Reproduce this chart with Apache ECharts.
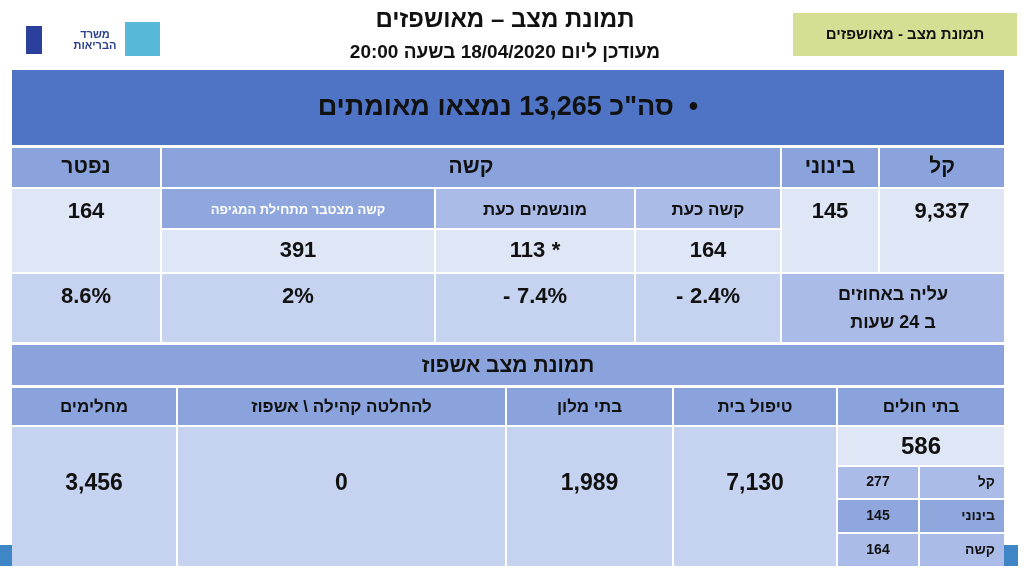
<!DOCTYPE html>
<html style="height: 100%">
<head>
  <meta charset="utf-8">
  <title>תמונת מצב – מאושפזים</title>
  <script src="https://cdn.jsdelivr.net/npm/echarts@6/dist/echarts.min.js"></script>
</head>
<body style="margin: 0; height: 100%; background: #fff">
  <div id="main" style="width: 1024px; height: 575px"></div>
  <script>
    const chart = echarts.init(document.getElementById('main'));
    const FONT = 'Liberation Sans';
    const RTL = s => '\u202B' + s + '\u202C';
    const measure = document.createElement('canvas').getContext('2d');

    // data
    const totalConfirmed = '13,265';
    const severityLabels = ['קל', 'בינוני', 'קשה', 'נפטר'];
    const severityValues = ['9,337', '145', null, '164'];
    const severeSubLabels = ['קשה כעת', 'מונשמים כעת', 'קשה מצטבר מתחילת המגיפה'];
    const severeSubValues = ['164', '113 *', '391'];
    const changeLabel = ['עליה באחוזים', 'ב 24 שעות'];
    const changeValues = ['- 2.4%', '- 7.4%', '2%', '8.6%'];
    const hospLabels = ['בתי חולים', 'טיפול בית', 'בתי מלון', 'להחלטה קהילה \\ אשפוז', 'מחלימים'];
    const hospValues = ['586', '7,130', '1,989', '0', '3,456'];
    const hospSubLabels = ['קל', 'בינוני', 'קשה'];
    const hospSubValues = ['277', '145', '164'];

    const g = [];
    function cell(x1, y1, x2, y2, fill) {
      g.push({ type: 'rect', shape: { x: x1, y: y1, width: x2 - x1, height: y2 - y1 }, style: { fill: fill } });
    }
    function txt(x, y, s, size, opts) {
      opts = opts || {};
      g.push({ type: 'text', x: x, y: y, style: {
        text: s, font: (opts.weight || 'bold') + ' ' + size + 'px "' + FONT + '"',
        fill: opts.color || '#111', align: opts.align || 'center', verticalAlign: 'middle'
      } });
    }
    // numbers with a sign: draw each piece on its own, left to right as written
    function num(cx, y, s, size) {
      const parts = s.split(' ');
      if (parts.length === 1) return txt(cx, y, s, size);
      measure.font = 'bold ' + size + 'px "' + FONT + '"';
      const gap = size * 0.3;
      const ws = parts.map(p => measure.measureText(p).width);
      let x = cx - (ws.reduce((a, b) => a + b, 0) + gap * (parts.length - 1)) / 2;
      parts.forEach((p, i) => { txt(x, y, p, size, { align: 'left' }); x += ws[i] + gap; });
    }

    // header
    txt(505, 20, 'תמונת מצב – מאושפזים', 24);
    txt(505, 53, RTL('מעודכן ליום 18/04/2020 בשעה 20:00'), 19);
    cell(793, 13, 1017, 56, '#d4df94');
    txt(905, 35, RTL('תמונת מצב - מאושפזים'), 15);
    txt(95, 40, 'משרד\nהבריאות', 11, { color: '#2b3f8c' });
    cell(26, 26, 42, 54, '#2b3f9c');
    cell(125, 22, 160, 56, '#58b8d8');

    // banner
    cell(12, 70, 1004, 145, '#4f74c6');
    txt(508, 108, RTL('•  סה"כ ' + totalConfirmed + ' נמצאו מאומתים'), 27);

    const HDR = '#8aa3dc', DARK = '#a9bbe6', LIGHT = '#dfe6f6', MID = '#c6d3f0';
    const sevX = [[880, 1004], [782, 878], [162, 780], [12, 160]];
    sevX.forEach((c, i) => {
      cell(c[0], 148, c[1], 187, HDR);
      txt((c[0] + c[1]) / 2, 167, severityLabels[i], 21);
      if (severityValues[i] !== null) {
        cell(c[0], 189, c[1], 272, LIGHT);
        num((c[0] + c[1]) / 2, 212, severityValues[i], 22);
      }
    });
    const subX = [[636, 780], [436, 634], [162, 434]];
    subX.forEach((c, i) => {
      cell(c[0], 189, c[1], 228, i === 2 ? '#8fa7dd' : DARK);
      txt((c[0] + c[1]) / 2, 210, severeSubLabels[i], i === 2 ? 13 : 17, { color: i === 2 ? '#fff' : '#111' });
      cell(c[0], 230, c[1], 272, LIGHT);
      num((c[0] + c[1]) / 2, 251, severeSubValues[i], 22);
    });
    // change row
    cell(782, 274, 1004, 342, DARK);
    txt(893, 295, changeLabel[0], 18);
    txt(893, 323, RTL(changeLabel[1]), 18);
    [[636, 780], [436, 634], [162, 434], [12, 160]].forEach((c, i) => {
      cell(c[0], 274, c[1], 342, MID);
      num((c[0] + c[1]) / 2, 297, changeValues[i], 22);
    });

    // hospitalisation
    cell(12, 345, 1004, 385, HDR);
    txt(508, 366, 'תמונת מצב אשפוז', 21);
    const hX = [[838, 1004], [674, 836], [507, 672], [178, 505], [12, 176]];
    hX.forEach((c, i) => {
      cell(c[0], 388, c[1], 425, HDR);
      txt((c[0] + c[1]) / 2, 407, RTL(hospLabels[i]), 17);
      if (i === 0) {
        cell(c[0], 427, c[1], 465, LIGHT);
        num((c[0] + c[1]) / 2, 447, hospValues[i], 24);
      } else {
        cell(c[0], 427, c[1], 566, MID);
        num((c[0] + c[1]) / 2, 484, hospValues[i], 23);
      }
    });
    const subY = [[467, 498], [500, 532], [534, 566]];
    subY.forEach((r, i) => {
      const f = i === 1 ? '#8fa7dd' : '#a9bbe6';
      cell(920, r[0], 1004, r[1], f);
      cell(838, r[0], 918, r[1], f);
      txt(995, (r[0] + r[1]) / 2, hospSubLabels[i], 14, { align: 'right' });
      num(878, (r[0] + r[1]) / 2, hospSubValues[i], 14);
    });
    cell(1004, 545, 1018, 566, '#3f86c6');
    cell(0, 545, 12, 566, '#3f86c6');

    chart.setOption({ animation: false, graphic: g });
  </script>
</body>
</html>
